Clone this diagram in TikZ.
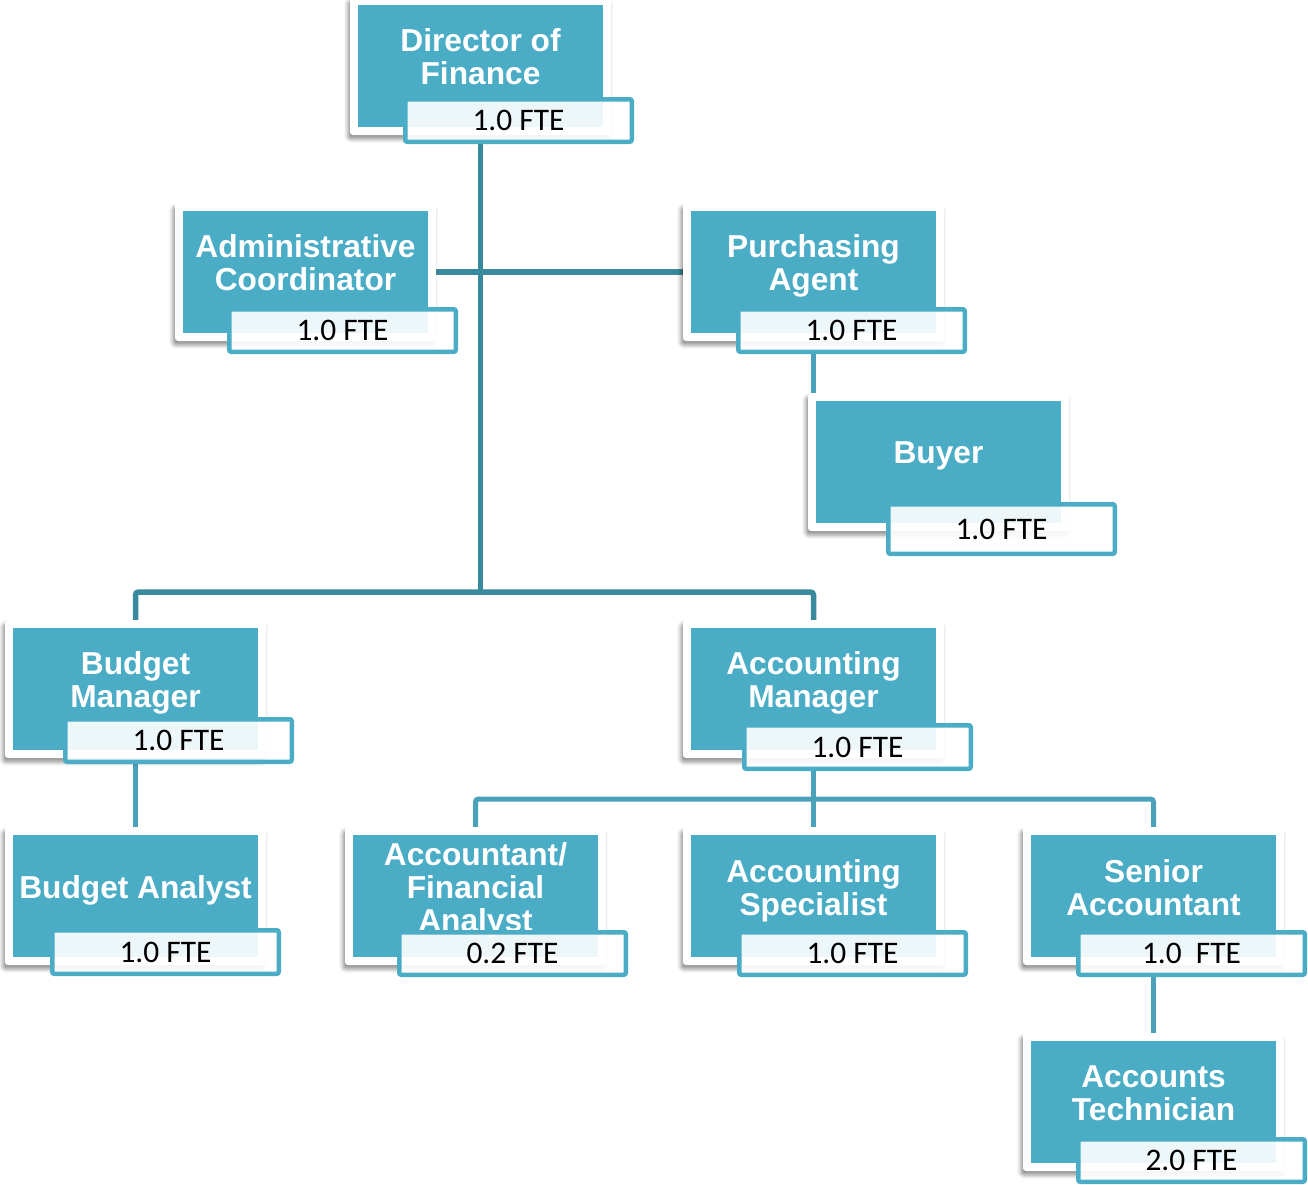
\documentclass[tikz,border=0pt]{standalone}
\usepackage{fontspec}
\newfontfamily\titlefont{Liberation Sans}
\newfontfamily\ftefont{Carlito}
\usetikzlibrary{shadows.blur}
\definecolor{teal1}{HTML}{4BACC6}
\definecolor{lineA}{HTML}{3A8A9E}
\definecolor{lineB}{HTML}{4AA2BA}
\pgfdeclarelayer{background}
\pgfsetlayers{background,main}
\tikzset{
  outerbox/.style={rectangle, fill=white, rounded corners=3pt, minimum width=261pt, minimum height=138pt, inner sep=0pt, outer sep=0pt,
    blur shadow={shadow xshift=-2pt, shadow yshift=-4pt, shadow blur radius=4pt, shadow opacity=45}},
  tealbox/.style={rectangle, fill=teal1, minimum width=245pt, minimum height=122pt, inner sep=0pt, outer sep=0pt},
  titletext/.style={align=center, text=white, inner sep=0pt, text depth=0pt, font=\titlefont\bfseries\fontsize{31.7}{33}\selectfont},
  ftebox/.style={rectangle, draw=teal1, line width=4.5pt, fill=white, fill opacity=0.9, text opacity=1, rounded corners=2pt,
    minimum width=226.5pt, inner sep=0pt, font=\ftefont\fontsize{31.4}{33}\selectfont, text=black},
  connA/.style={draw=lineA, line width=5.5pt, rounded corners=3pt},
  connB/.style={draw=lineB, line width=5pt, rounded corners=3pt}
}
\newcommand\orgunit[8]{%
  \node[outerbox, anchor=north west] (#1) at (#2,#3) {};
  \node[tealbox] (#1T) at (#1.center) {};
  \node[titletext, yshift=9pt] (#1L) at (#1.center) {#7};
  \node[ftebox, anchor=north west, minimum height={#6pt-4.5pt}] (#1F) at (#4,#5) {#8};
}
\begin{document}
\begin{tikzpicture}[x=1pt, y=-1pt]
\useasboundingbox (0,0) rectangle (1308,1184);
\orgunit{dir}{350}{-3}{403}{97}{47}{Director of\\Finance}{1.0 FTE}
\orgunit{adm}{175}{203}{227}{307}{47}{Administrative\\Coordinator}{1.0 FTE}
\orgunit{pa}{683}{203}{736}{307}{47}{Purchasing\\Agent}{1.0 FTE}
\orgunit{buy}{808}{393}{886}{502}{54}{Buyer}{1.0 FTE}
\orgunit{bm}{5}{620}{63}{717}{47}{Budget\\Manager}{1.0 FTE}
\orgunit{am}{683}{620}{742}{723}{48}{Accounting\\Manager}{1.0 FTE}
\orgunit{ba}{5}{827}{50}{928}{48}{Budget Analyst}{1.0 FTE}
\orgunit{afa}{345}{827}{397}{930}{47}{Accountant/\\Financial\\Analyst}{0.2 FTE}
\orgunit{as}{683}{827}{737}{930}{47}{Accounting\\Specialist}{1.0 FTE}
\orgunit{sa}{1023}{827}{1076}{930}{47}{Senior\\Accountant}{1.0~~FTE}
\orgunit{at}{1023}{1033}{1076}{1137}{47}{Accounts\\Technician}{2.0 FTE}
\coordinate (j1) at (480.5,592);
\coordinate (j2) at (813.5,799);
\begin{pgfonlayer}{background}
  \draw[connA] (dir.center |- dirF.south) -- (j1);
  \draw[connA] (adm.east) -- (pa.west);
  \draw[connA] (bm.north) |- (j1) -| (am.north);
  \draw[connB] (pa.center |- paF.south) -- (pa.center |- buy.north);
  \draw[connB] (bm.center |- bmF.south) -- (ba.north);
  \draw[connB] (am.center |- amF.south) -- (as.north);
  \draw[connB] (afa.north) |- (j2) -| (sa.north);
  \draw[connB] (sa.center |- saF.south) -- (at.north);
\end{pgfonlayer}
\end{tikzpicture}
\end{document}
